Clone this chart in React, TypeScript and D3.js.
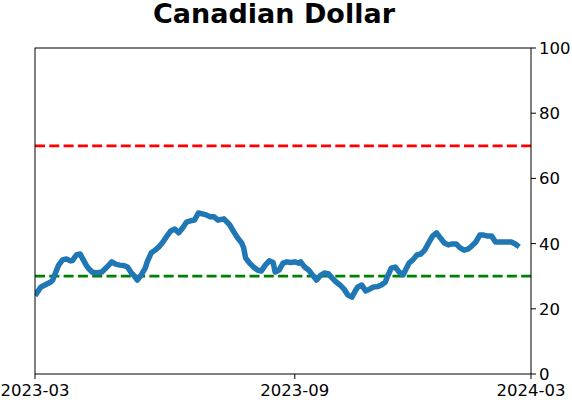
import * as d3 from 'd3';
import { useMemo } from 'react';

// trading-session index (0..252 spans 2023-03 → 2024-03) and indicator value
const sessions = [
    0, 3, 5, 8, 9, 10, 12, 14, 16, 18, 19, 21, 23, 24, 26, 27, 29, 31, 34, 36,
    37, 39, 41, 43, 45, 47, 49, 50, 52, 54, 56, 57, 59, 61, 63, 65, 67, 69, 71,
    73, 75, 77, 79, 81, 83, 85, 87, 89, 91, 93, 96, 99, 101, 103, 105, 106, 107,
    109, 111, 113, 115, 117, 119, 121, 122, 124, 126, 128, 130, 132, 134, 135,
    137, 139, 141, 143, 145, 147, 149, 151, 153, 155, 157, 159, 161, 163, 164,
    166, 168, 170, 172, 174, 176, 178, 179, 181, 183, 185, 187, 188, 190, 192,
    194, 196, 198, 200, 202, 204, 206, 208, 210, 212, 214, 216, 218, 220, 222,
    224, 226, 228, 230, 232, 234, 236, 238, 240, 242, 244, 246,
];
const values = [
    24, 26.7, 27.3, 28.2, 28.8, 30.4, 33.4, 35, 35.3, 34.7, 34.8, 36.5, 36.8,
    35.6, 33.4, 32.5, 31.3, 31, 31.3, 32.5, 33.1, 34.4, 33.7, 33.4, 33.3, 32.8,
    31, 30.4, 28.8, 30.4, 32.5, 34.4, 37.1, 38, 39, 40.5, 42.3, 43.9, 44.5,
    43.3, 44.8, 46.6, 47, 47.2, 49.4, 49.1, 48.8, 48.2, 48.2, 47.2, 47.6, 45.7,
    43.6, 41.7, 40.2, 38.7, 35.6, 34, 32.8, 31.9, 31.6, 33.4, 34.7, 34.2, 31.3,
    31.9, 34, 34.4, 34.2, 34.4, 34, 34.4, 32.8, 31.9, 30.4, 28.8, 30.2, 31,
    30.8, 29.4, 28.2, 27.3, 26, 24.2, 23.6, 25.8, 26.7, 27.3, 25.5, 26, 26.7,
    26.8, 27.3, 28.2, 29.8, 32.5, 32.8, 31.3, 30.4, 31.6, 34, 35, 36.5, 36.8,
    38, 40.2, 42.3, 43.3, 41.7, 40.2, 39.6, 39.9, 39.9, 38.7, 38, 38.3, 39.3,
    40.5, 42.6, 42.6, 42.3, 42.3, 40.5, 40.5, 40.5, 40.5, 40.5, 39.9, 39,
];
const xTickSessions = [0, 132, 252];
const xTickLabels = ['2023-03', '2023-09', '2024-03'];
const yTicks = [0, 20, 40, 60, 80, 100];
const upperLevel = 70;
const lowerLevel = 30;
const title = 'Canadian Dollar';

const width = 572;
const height = 402;
const margin = { top: 48, right: 41, bottom: 28, left: 35 };
const font = 'DejaVu Sans, sans-serif';

export default function App() {
    const innerW = width - margin.left - margin.right;
    const innerH = height - margin.top - margin.bottom;

    const { x, y, path } = useMemo(() => {
        const x = d3.scaleLinear().domain([0, 252]).range([0, innerW]);
        const y = d3.scaleLinear().domain([0, 100]).range([innerH, 0]);
        const line = d3
            .line<number>()
            .x((_, i) => x(sessions[i]))
            .y((d) => y(d))
            .curve(d3.curveLinear);
        return { x, y, path: line(values) ?? '' };
    }, [innerW, innerH]);

    return (
        <svg
            width={width}
            height={height}
            style={{ position: 'absolute', top: 0, left: 0, background: '#fff' }}
            fontFamily={font}
        >
            <text
                x={margin.left + innerW / 2 - 9}
                y={23}
                textAnchor="middle"
                fontSize={27}
                fontWeight="bold"
            >
                {title}
            </text>
            <g transform={`translate(${margin.left},${margin.top})`}>
                <defs>
                    <clipPath id="plot-clip">
                        <rect width={innerW} height={innerH} />
                    </clipPath>
                </defs>
                <line
                    x1={0}
                    x2={innerW}
                    y1={y(upperLevel)}
                    y2={y(upperLevel)}
                    stroke="#ff0000"
                    strokeWidth={2.7}
                    strokeDasharray="10,4.3"
                />
                <line
                    x1={0}
                    x2={innerW}
                    y1={y(lowerLevel)}
                    y2={y(lowerLevel)}
                    stroke="#008000"
                    strokeWidth={2.7}
                    strokeDasharray="10,4.3"
                />
                <path
                    d={path}
                    fill="none"
                    stroke="#1f77b4"
                    strokeWidth={5.5}
                    strokeLinejoin="round"
                    clipPath="url(#plot-clip)"
                />
                <rect
                    width={innerW}
                    height={innerH}
                    fill="none"
                    stroke="#000"
                    strokeWidth={1}
                />
                {yTicks.map((t) => (
                    <g key={t} transform={`translate(${innerW},${y(t)})`}>
                        <line x1={0} x2={5} stroke="#000" />
                        <text x={8} dy="0.36em" fontSize={16.5}>
                            {t}
                        </text>
                    </g>
                ))}
                {xTickSessions.map((s, i) => (
                    <g key={s} transform={`translate(${x(s)},${innerH})`}>
                        <line y1={0} y2={5} stroke="#000" />
                        <text y={22} textAnchor="middle" fontSize={16.5}>
                            {xTickLabels[i]}
                        </text>
                    </g>
                ))}
            </g>
        </svg>
    );
}
